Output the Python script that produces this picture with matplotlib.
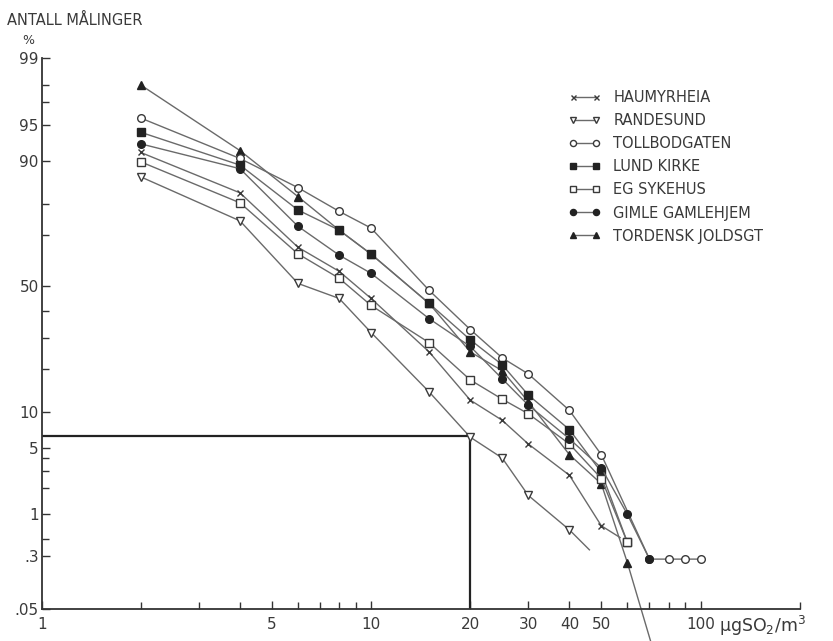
"""Kumulativ fordeling av SO2-målinger, sannsynlighetsakse mot log-konsentrasjon."""

from statistics import NormalDist

import matplotlib

matplotlib.use("Agg")
import matplotlib.pyplot as plt
import numpy as np
from matplotlib.ticker import FixedLocator, NullFormatter

# --- data: konsentrasjon (µg SO2/m3) og andel målinger over (%) ---
x_haum = [2, 4, 6, 8, 10, 15, 20, 25, 30, 40, 50, 57]
p_haum = [91.4, 83.0, 65.5, 56.1, 45.1, 25.2, 12.3, 8.6, 5.4, 2.7, 0.73, 0.52]

x_rande = [2, 4, 6, 8, 10, 15, 20, 25, 30, 40, 46]
p_rande = [86.8, 74.8, 51.2, 45.1, 31.9, 14.1, 6.2, 4.0, 1.65, 0.65, 0.36]

x_toll = [2, 4, 6, 8, 10, 15, 20, 25, 30, 40, 50, 70, 80, 90, 100]
p_toll = [95.7, 90.4, 84.3, 77.8, 72.4, 48.4, 33.0, 23.3, 18.6, 10.3, 4.3, 0.27, 0.27, 0.27, 0.27]

x_lund = [2, 4, 6, 8, 10, 15, 20, 25, 30, 40, 50, 60]
p_lund = [94.2, 89.2, 78.2, 71.7, 62.9, 43.1, 29.3, 21.2, 13.4, 7.2, 2.9, 0.45]

x_eg = [2, 4, 6, 8, 10, 15, 20, 25, 30, 40, 50, 60]
p_eg = [89.8, 80.3, 63.0, 53.3, 42.3, 28.3, 17.0, 12.5, 9.7, 5.4, 2.5, 0.45]

x_gimle = [2, 4, 6, 8, 10, 15, 20, 25, 30, 40, 50, 60, 70]
p_gimle = [92.7, 88.5, 73.0, 62.5, 55.3, 37.1, 27.0, 17.3, 11.3, 6.0, 3.2, 1.0, 0.27]

x_tord = [2, 4, 6, 8, 10, 15, 20, 25, 30, 40, 50, 60, 72]
p_tord = [98.0, 91.7, 82.0, 71.7, 62.9, 43.1, 25.2, 19.5, 12.0, 4.3, 2.2, 0.24, 0.01]

# grenseverdi-markering
limit_x = 20
limit_p = 6.4

x_ticks = [1, 5, 10, 20, 30, 40, 50, 100]
x_ticklabels = ["1", "5", "10", "20", "30", "40", "50", "100"]
x_minor = [2, 3, 4, 6, 7, 8, 9, 60, 70, 80, 90, 200]
y_ticks = [0.05, 0.3, 1, 5, 10, 50, 90, 95, 99]
y_ticklabels = [".05", ".3", "1", "5", "10", "50", "90", "95", "99"]
y_minor = [0.5, 2, 3, 4, 20, 30, 40, 70, 80, 97, 98]

_nd = NormalDist()
_ppf = np.vectorize(_nd.inv_cdf, otypes=[float])
_cdf = np.vectorize(_nd.cdf, otypes=[float])


def prob_fwd(p):
    p = np.clip(np.asarray(p, dtype=float) / 100.0, 1e-9, 1 - 1e-9)
    return _ppf(p)


def prob_inv(z):
    return _cdf(np.asarray(z, dtype=float)) * 100.0


INK = "#3a3a3a"
LINE = "#6a6a6a"

plt.rcParams["font.family"] = ["DejaVu Sans"]
fig = plt.figure(figsize=(8.33, 6.41), dpi=100)
ax = fig.add_axes([0.050, 0.050, 0.910, 0.859])

ax.set_xscale("log")
ax.set_yscale("function", functions=(prob_fwd, prob_inv))
ax.set_xlim(1, 200)
ax.set_ylim(0.05, 99)

lw = 1.0
ms = 5.5
# navn, x, y, markørstil, skjul siste markør, zorder
series = [
    ("HAUMYRHEIA", x_haum, p_haum, dict(marker="x", mfc=INK, mec=INK, ms=4.5), True, 3),
    ("RANDESUND", x_rande, p_rande, dict(marker="v", mfc="white", mec=INK, ms=ms + 0.5), True, 3),
    ("TOLLBODGATEN", x_toll, p_toll, dict(marker="o", mfc="white", mec=INK, ms=ms), False, 3),
    ("LUND KIRKE", x_lund, p_lund, dict(marker="s", mfc="#222222", mec="#222222", ms=ms), False, 3),
    ("EG SYKEHUS", x_eg, p_eg, dict(marker="s", mfc="white", mec=INK, ms=ms), False, 3),
    ("GIMLE GAMLEHJEM", x_gimle, p_gimle, dict(marker="o", mfc="#222222", mec="#222222", ms=ms), False, 3),
    ("TORDENSK JOLDSGT", x_tord, p_tord, dict(marker="^", mfc="#222222", mec="#222222", ms=ms), True, 2.5),
]

handles = []
for name, xs, ps, style, drop_last, z in series:
    every = list(range(len(xs) - 1)) if drop_last else None
    (h,) = ax.plot(xs, ps, color=LINE, lw=lw, markevery=every, mew=1.0,
                   clip_on=False, label=name, zorder=z, **style)
    handles.append(h)

# horisontal og vertikal hjelpelinje til 20 µg
ax.plot([1, limit_x, limit_x], [limit_p, limit_p, 0.05], color="#222222", lw=1.6,
        zorder=2, solid_joinstyle="miter")

for side in ("top", "right"):
    ax.spines[side].set_visible(False)
for side in ("left", "bottom"):
    ax.spines[side].set_color("#333333")
    ax.spines[side].set_linewidth(1.3)

ax.xaxis.set_major_locator(FixedLocator(x_ticks))
ax.set_xticklabels(x_ticklabels)
ax.xaxis.set_minor_locator(FixedLocator(x_minor))
ax.xaxis.set_minor_formatter(NullFormatter())
ax.yaxis.set_major_locator(FixedLocator(y_ticks))
ax.set_yticklabels(y_ticklabels)
ax.yaxis.set_minor_locator(FixedLocator(y_minor))
ax.yaxis.set_minor_formatter(NullFormatter())

ax.tick_params(which="both", direction="in", colors="#333333", labelcolor=INK,
               labelsize=11)
ax.tick_params(which="major", length=6, width=1.0)
ax.tick_params(which="minor", length=5, width=1.0)
ax.tick_params(axis="x", pad=6)
ax.tick_params(axis="y", pad=2)

ax.text(0.893, -0.031, "µgSO$_2$/m$^3$", transform=ax.transAxes, ha="left",
        va="center", fontsize=12.5, color=INK)
fig.text(0.008, 0.968, "ANTALL MÅLINGER", ha="left", va="center", fontsize=10.5,
         color=INK)
fig.text(0.034, 0.937, "%", ha="center", va="center", fontsize=9, color=INK)

leg = ax.legend(handles=handles, loc="upper left", bbox_to_anchor=(0.685, 0.955),
                frameon=False, numpoints=2, handlelength=2.2, handletextpad=0.9,
                labelspacing=0.55, fontsize=10.5, borderpad=0, markerscale=0.8)
for t in leg.get_texts():
    t.set_color(INK)

fig.savefig("out.png", dpi=100, facecolor="white")
